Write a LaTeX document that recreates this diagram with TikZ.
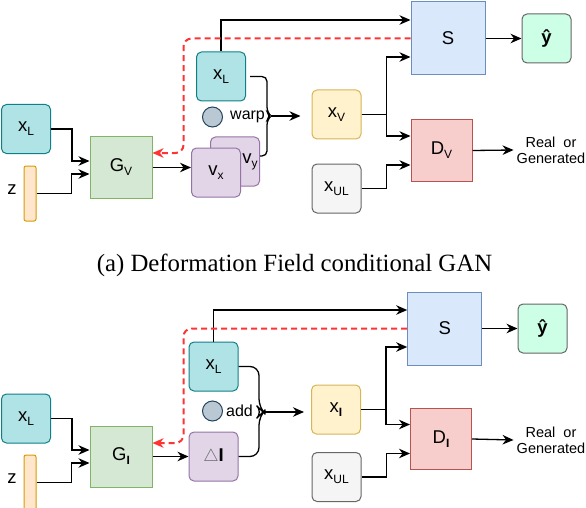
\documentclass[tikz,border=0pt]{standalone}
\usepackage{fontspec}
\setmainfont{Liberation Sans}
\newfontfamily\capfont{Liberation Serif}
\usetikzlibrary{arrows.meta, positioning}

\definecolor{inFill}{HTML}{B0E3E6}	\definecolor{inLine}{HTML}{0E8088}
\definecolor{zFill}{HTML}{FFE6CC}	\definecolor{zLine}{HTML}{D79B00}
\definecolor{genFill}{HTML}{D5E8D4}	\definecolor{genLine}{HTML}{82B366}
\definecolor{fldFill}{HTML}{E1D5E7}	\definecolor{fldLine}{HTML}{9673A6}
\definecolor{segFill}{HTML}{DAE8FC}	\definecolor{segLine}{HTML}{6C8EBF}
\definecolor{disFill}{HTML}{F8CECC}	\definecolor{disLine}{HTML}{B85450}
\definecolor{outFill}{HTML}{FFF2CC}	\definecolor{outLine}{HTML}{D6B656}
\definecolor{ulFill}{HTML}{F5F5F5}	\definecolor{ulLine}{HTML}{666666}
\definecolor{yFill}{HTML}{CCFFE6}
\definecolor{opFill}{HTML}{BAC8D3}	\definecolor{opLine}{HTML}{23445D}
\definecolor{gradRed}{HTML}{FF3333}

\newcommand{\subs}[1]{\raisebox{-4pt}{\fontsize{12}{13}\selectfont #1}}

\tikzset{
	lbl/.style={font=\fontsize{18.5}{20}\selectfont},
	box/.style={draw, line width=1pt, rounded corners=5pt, minimum width=49pt, minimum height=49pt, inner sep=0pt, lbl},
	net/.style={draw, line width=1pt, inner sep=0pt, lbl},
	inbox/.style={box, fill=inFill, draw=inLine},
	fldbox/.style={box, fill=fldFill, draw=fldLine},
	outbox/.style={box, fill=outFill, draw=outLine},
	ulbox/.style={box, fill=ulFill, draw=ulLine},
	ybox/.style={box, fill=yFill, draw=ulLine},
	noise/.style={draw=zLine, fill=zFill, line width=1pt, rounded corners=2pt, minimum width=12pt, minimum height=55pt, inner sep=0pt},
	gen/.style={net, fill=genFill, draw=genLine, minimum width=62pt, minimum height=61pt},
	seg/.style={net, fill=segFill, draw=segLine, minimum width=74pt, minimum height=73pt},
	disc/.style={net, fill=disFill, draw=disLine, minimum width=61pt, minimum height=61pt},
	op/.style={circle, draw=opLine, fill=opFill, line width=1pt, minimum size=20pt, inner sep=0pt},
	optext/.style={font=\fontsize{16}{18}\selectfont, inner sep=1pt},
	verdict/.style={align=center, font=\fontsize{14.5}{16}\selectfont, inner sep=3pt},
	link/.style={->, line width=1.3pt},
	grad/.style={->, line width=2pt, draw=gradRed, dash pattern=on 6pt off 4pt, rounded corners=8pt},
}

\begin{document}
\begin{tikzpicture}[x=1pt, y=-1pt, >={Stealth[length=11pt, width=9.5pt, inset=3.5pt]}]
	\useasboundingbox (0,0) rectangle (586,508);

% (a) deformation field GAN
	\node (xl_in)	[inbox]		at (26,129)		{x\subs{L}};
	\node (z_in)	[noise]		at (30,193.5)	{};
	\node			[lbl]		at (12,190)		{z};
	\node (gen_v)	[gen]		at (121,167.5)	{G\subs{V}};
	\node (vel_y)	[fldbox]	at (235,161.5)	{\hspace*{30pt}v\subs{y}};
	\node (vel_x)	[fldbox]	at (216,172.5)	{v\subs{x}};
	\node (xl_warp)	[inbox]		at (221,76.5)	{x\subs{L}};
	\node (warp_op)	[op]		at (212.5,117)	{};
	\node			[optext, right=6pt of warp_op]	{warp};
	\node (seg)		[seg]		at (448,38.5)	{S};
	\node (y_hat)	[ybox]		at (546.5,38.5)	{\textbf{\^{y}}};
	\node (x_v)		[outbox]	at (336.5,114.5)	{x\subs{V}};
	\node (disc_v)	[disc]		at (441.5,150.5)	{D\subs{V}};
	\node (x_ul)	[ulbox]		at (336.5,188.5)	{x\subs{UL}};
	\node (real_v)	[verdict]	at (551,150)	{Real~~or\\Generated};
	\coordinate (warp_tip) at (271,116);

	\draw[link] (xl_in.east) -- ++(21,0) |- ([yshift=6.5pt]gen_v.west);
	\draw[link] (z_in.east) -- ++(35,0) |- ([yshift=-6.5pt]gen_v.west);
	\draw[link] (gen_v.east) -- (gen_v.east -| vel_x.west);
	\draw[line width=1.3pt, rounded corners=5pt] ([xshift=4pt]xl_warp.east) -- (267,76.5) -- (267,112) -- (warp_tip) -- (267,120) -- (267,156) -- ([yshift=5.5pt]vel_y.east);
	\draw[link, shorten >=11pt] (warp_tip) -- (warp_tip -| x_v.west);
	\draw[link] (xl_warp.north) |- ([yshift=18.5pt]seg.west);
	\draw[grad] (seg.west) -| ([xshift=31pt, yshift=14.5pt]gen_v.east) -- ([yshift=14.5pt]gen_v.east);
	\draw[link] (seg.east) -- (y_hat.west);
	\draw[link] (x_v.east) -- ++(25,0) |- ([yshift=-18.5pt]seg.west);
	\draw[link] (x_v.east) -- ++(25,0) |- ([yshift=14.5pt]disc_v.west);
	\draw[link] (x_ul.east) -- ++(25,0) |- ([yshift=-14.5pt]disc_v.west);
	\draw[link] (disc_v.east) -- (real_v.west);

	\node (cap_a) at (294.5,265) {\capfont\fontsize{24.8}{27}\selectfont (a) Deformation Field conditional GAN};

% (b) intensity GAN
	\node (xl_in2)	[inbox]		at (26,418.5)	{x\subs{L}};
	\node (z_in2)	[noise]		at (30,482.5)	{};
	\node			[lbl]		at (12,479)		{z};
	\node (gen_i)	[gen]		at (121,456.5)	{G\subs{\textbf{I}}};
	\node (delta_i)	[fldbox]	at (213.5,456.5)	{\textcolor{gray!80!black}{$\triangle$}\textbf{I}};
	\node (xl_add)	[inbox]		at (213.5,366.5)	{x\subs{L}};
	\node (add_op)	[op]		at (212.5,411)	{};
	\node			[optext, right=2pt of add_op]	{add};
	\node (seg2)	[seg]		at (444.7,328.5)	{S};
	\node (y_hat2)	[ybox]		at (542.5,328.5)	{\textbf{\^{y}}};
	\node (x_i)		[outbox]	at (336,409.5)	{x\subs{\textbf{I}}};
	\node (disc_i)	[disc]		at (441,439)	{D\subs{\textbf{I}}};
	\node (x_ul2)	[ulbox]		at (336.5,477)	{x\subs{UL}};
	\node (real_i)	[verdict]	at (551,440)	{Real~~or\\Generated};
	\coordinate (add_tip) at (263,412);

	\draw[link] (xl_in2.east) -- ++(21,0) |- ([yshift=6.5pt]gen_i.west);
	\draw[link] (z_in2.east) -- ++(35,0) |- ([yshift=-6.5pt]gen_i.west);
	\draw[link] (gen_i.east) -- (delta_i.west);
	\draw[line width=1.3pt, rounded corners=9pt] (xl_add.east) -- (259,366.5) -- (259,408) -- (add_tip) -- (259,416) -- (259,456.5) -- (delta_i.east);
	\draw[link, shorten >=7pt] (add_tip) -- (add_tip -| x_i.west);
	\draw[link] (xl_add.north) |- ([yshift=18.5pt]seg2.west);
	\draw[grad] (seg2.west) -| ([xshift=31pt, yshift=13.5pt]gen_i.east) -- ([yshift=13.5pt]gen_i.east);
	\draw[link] (seg2.east) -- (y_hat2.west);
	\draw[link] (x_i.east) -- ++(25,0) |- ([yshift=-18.5pt]seg2.west);
	\draw[link] (x_i.east) -- ++(25,0) |- ([yshift=14.5pt]disc_i.west);
	\draw[link] (x_ul2.east) -- ++(25,0) |- ([yshift=-14.5pt]disc_i.west);
	\draw[link] (disc_i.east) -- (real_i.west);
\end{tikzpicture}
\end{document}
